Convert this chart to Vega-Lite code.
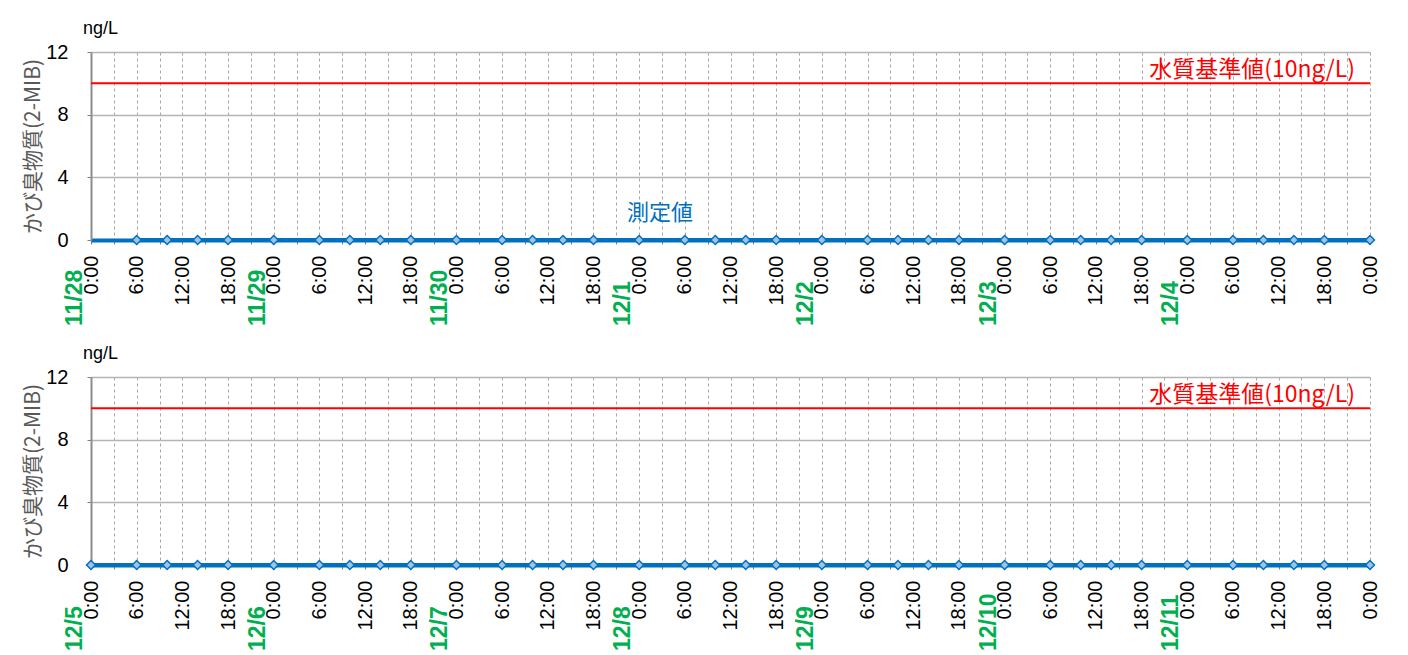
{
  "$schema": "https://vega.github.io/schema/vega-lite/v6.json",
  "background": "white",
  "padding": {"left": 22, "top": 20, "right": 5, "bottom": 0},
  "spacing": 19,
  "config": {
    "font": "Liberation Sans",
    "view": {"stroke": null},
    "axisX": {
      "labelAngle": 270,
      "labelFontSize": 20,
      "labelColor": "black",
      "labelPadding": 11,
      "tickSize": 4,
      "tickColor": "#7F7F7F",
      "domainColor": "#0070C0",
      "domainWidth": 4,
      "grid": true,
      "gridDash": [3, 3],
      "gridColor": "#A6A6A6",
      "gridWidth": 1
    },
    "axisY": {
      "labelFontSize": 20,
      "labelColor": "black",
      "labelPadding": 19,
      "tickSize": 4,
      "tickColor": "#7F7F7F",
      "domainColor": "#8C8C8C",
      "domainWidth": 2,
      "grid": true,
      "gridColor": "#B4B4B4",
      "gridWidth": 1.5,
      "titleFont": "Noto Sans CJK JP",
      "titleFontSize": 21,
      "titleFontWeight": "normal",
      "titleColor": "#595959",
      "titlePadding": 2
    }
  },
  "datasets": {
    "w1": [
      {"t": "2023-11-28T06:00:00", "v": 0}, {"t": "2023-11-28T10:00:00", "v": 0}, {"t": "2023-11-28T14:00:00", "v": 0}, {"t": "2023-11-28T18:00:00", "v": 0},
      {"t": "2023-11-29T00:00:00", "v": 0}, {"t": "2023-11-29T06:00:00", "v": 0}, {"t": "2023-11-29T10:00:00", "v": 0}, {"t": "2023-11-29T14:00:00", "v": 0}, {"t": "2023-11-29T18:00:00", "v": 0},
      {"t": "2023-11-30T00:00:00", "v": 0}, {"t": "2023-11-30T06:00:00", "v": 0}, {"t": "2023-11-30T10:00:00", "v": 0}, {"t": "2023-11-30T14:00:00", "v": 0}, {"t": "2023-11-30T18:00:00", "v": 0},
      {"t": "2023-12-01T00:00:00", "v": 0}, {"t": "2023-12-01T06:00:00", "v": 0}, {"t": "2023-12-01T10:00:00", "v": 0}, {"t": "2023-12-01T14:00:00", "v": 0}, {"t": "2023-12-01T18:00:00", "v": 0},
      {"t": "2023-12-02T00:00:00", "v": 0}, {"t": "2023-12-02T06:00:00", "v": 0}, {"t": "2023-12-02T10:00:00", "v": 0}, {"t": "2023-12-02T14:00:00", "v": 0}, {"t": "2023-12-02T18:00:00", "v": 0},
      {"t": "2023-12-03T00:00:00", "v": 0}, {"t": "2023-12-03T06:00:00", "v": 0}, {"t": "2023-12-03T10:00:00", "v": 0}, {"t": "2023-12-03T14:00:00", "v": 0}, {"t": "2023-12-03T18:00:00", "v": 0},
      {"t": "2023-12-04T00:00:00", "v": 0}, {"t": "2023-12-04T06:00:00", "v": 0}, {"t": "2023-12-04T10:00:00", "v": 0}, {"t": "2023-12-04T14:00:00", "v": 0}, {"t": "2023-12-04T18:00:00", "v": 0},
      {"t": "2023-12-05T00:00:00", "v": 0}
    ],
    "w2": [
      {"t": "2023-12-05T00:00:00", "v": 0}, {"t": "2023-12-05T06:00:00", "v": 0}, {"t": "2023-12-05T10:00:00", "v": 0}, {"t": "2023-12-05T14:00:00", "v": 0}, {"t": "2023-12-05T18:00:00", "v": 0},
      {"t": "2023-12-06T00:00:00", "v": 0}, {"t": "2023-12-06T06:00:00", "v": 0}, {"t": "2023-12-06T10:00:00", "v": 0}, {"t": "2023-12-06T14:00:00", "v": 0}, {"t": "2023-12-06T18:00:00", "v": 0},
      {"t": "2023-12-07T00:00:00", "v": 0}, {"t": "2023-12-07T06:00:00", "v": 0}, {"t": "2023-12-07T10:00:00", "v": 0}, {"t": "2023-12-07T14:00:00", "v": 0}, {"t": "2023-12-07T18:00:00", "v": 0},
      {"t": "2023-12-08T00:00:00", "v": 0}, {"t": "2023-12-08T06:00:00", "v": 0}, {"t": "2023-12-08T10:00:00", "v": 0}, {"t": "2023-12-08T14:00:00", "v": 0}, {"t": "2023-12-08T18:00:00", "v": 0},
      {"t": "2023-12-09T00:00:00", "v": 0}, {"t": "2023-12-09T06:00:00", "v": 0}, {"t": "2023-12-09T10:00:00", "v": 0}, {"t": "2023-12-09T14:00:00", "v": 0}, {"t": "2023-12-09T18:00:00", "v": 0},
      {"t": "2023-12-10T00:00:00", "v": 0}, {"t": "2023-12-10T06:00:00", "v": 0}, {"t": "2023-12-10T10:00:00", "v": 0}, {"t": "2023-12-10T14:00:00", "v": 0}, {"t": "2023-12-10T18:00:00", "v": 0},
      {"t": "2023-12-11T00:00:00", "v": 0}, {"t": "2023-12-11T06:00:00", "v": 0}, {"t": "2023-12-11T10:00:00", "v": 0}, {"t": "2023-12-11T14:00:00", "v": 0}, {"t": "2023-12-11T18:00:00", "v": 0},
      {"t": "2023-12-12T00:00:00", "v": 0}
    ],
    "d1": [
      {"t": "2023-11-28T00:00:00", "v": 0, "label": "11/28"}, {"t": "2023-11-29T00:00:00", "v": 0, "label": "11/29"},
      {"t": "2023-11-30T00:00:00", "v": 0, "label": "11/30"}, {"t": "2023-12-01T00:00:00", "v": 0, "label": "12/1"},
      {"t": "2023-12-02T00:00:00", "v": 0, "label": "12/2"}, {"t": "2023-12-03T00:00:00", "v": 0, "label": "12/3"},
      {"t": "2023-12-04T00:00:00", "v": 0, "label": "12/4"}
    ],
    "d2": [
      {"t": "2023-12-05T00:00:00", "v": 0, "label": "12/5"}, {"t": "2023-12-06T00:00:00", "v": 0, "label": "12/6"},
      {"t": "2023-12-07T00:00:00", "v": 0, "label": "12/7"}, {"t": "2023-12-08T00:00:00", "v": 0, "label": "12/8"},
      {"t": "2023-12-09T00:00:00", "v": 0, "label": "12/9"}, {"t": "2023-12-10T00:00:00", "v": 0, "label": "12/10"},
      {"t": "2023-12-11T00:00:00", "v": 0, "label": "12/11"}
    ],
    "s1": [{"t": "2023-12-05T00:00:00", "v": 10, "label": "水質基準値(10ng/L)"}],
    "s2": [{"t": "2023-12-12T00:00:00", "v": 10, "label": "水質基準値(10ng/L)"}],
    "m1": [{"t": "2023-12-01T02:45:00", "v": 0, "label": "測定値"}]
  },
  "vconcat": [
    {
      "width": 1279,
      "height": 188,
      "title": {"text": "ng/L", "anchor": "start", "frame": "group", "fontSize": 18, "fontWeight": "normal", "color": "black", "dx": -8, "offset": 4},
      "layer": [
        {
          "data": {"name": "s1"},
          "mark": {"type": "rule", "color": "#FF0000", "strokeWidth": 2},
          "encoding": {"y": {"field": "v", "type": "quantitative"}}
        },
        {
          "data": {"name": "w1"},
          "mark": {"type": "line", "color": "#0070C0", "strokeWidth": 4},
          "encoding": {
            "x": {"field": "t", "type": "temporal",
              "scale": {"domain": [{"year": 2023, "month": 11, "date": 28}, {"year": 2023, "month": 12, "date": 5}], "nice": false},
              "axis": {"title": null, "tickCount": 56, "format": "%-H:%M", "labelOverlap": "parity", "labelSeparation": 12, "labelFlush": false}},
            "y": {"field": "v", "type": "quantitative",
              "scale": {"domain": [0, 12], "nice": false},
              "axis": {"title": "かび臭物質(2-MIB)", "values": [0, 2, 4, 6, 8, 10, 12], "labelOverlap": false}}
          }
        },
        {
          "data": {"name": "w1"},
          "mark": {"type": "point", "shape": "diamond", "filled": true, "size": 80, "fill": "#9DC3E6", "stroke": "#0070C0", "strokeWidth": 1.5, "opacity": 1},
          "encoding": {"x": {"field": "t", "type": "temporal"}, "y": {"field": "v", "type": "quantitative"}}
        },
        {
          "data": {"name": "s1"},
          "mark": {"type": "text", "font": "Noto Sans CJK JP", "fontSize": 23, "color": "#FF0000", "align": "right", "baseline": "bottom", "dx": -15, "dy": -1},
          "encoding": {"x": {"field": "t", "type": "temporal"}, "y": {"field": "v", "type": "quantitative"}, "text": {"field": "label"}}
        },
        {
          "data": {"name": "m1"},
          "mark": {"type": "text", "font": "Noto Sans CJK JP", "fontSize": 22, "color": "#0070C0", "align": "center", "baseline": "bottom", "dy": -15},
          "encoding": {"x": {"field": "t", "type": "temporal"}, "y": {"field": "v", "type": "quantitative"}, "text": {"field": "label"}}
        },
        {
          "data": {"name": "d1"},
          "mark": {"type": "text", "angle": 270, "align": "left", "baseline": "alphabetic", "dx": -86, "dy": -9, "fontSize": 23, "fontWeight": "bold", "color": "#00B050"},
          "encoding": {"x": {"field": "t", "type": "temporal"}, "y": {"field": "v", "type": "quantitative"}, "text": {"field": "label"}}
        }
      ]
    },
    {
      "width": 1279,
      "height": 188,
      "title": {"text": "ng/L", "anchor": "start", "frame": "group", "fontSize": 18, "fontWeight": "normal", "color": "black", "dx": -8, "offset": 4},
      "layer": [
        {
          "data": {"name": "s2"},
          "mark": {"type": "rule", "color": "#FF0000", "strokeWidth": 2},
          "encoding": {"y": {"field": "v", "type": "quantitative"}}
        },
        {
          "data": {"name": "w2"},
          "mark": {"type": "line", "color": "#0070C0", "strokeWidth": 4},
          "encoding": {
            "x": {"field": "t", "type": "temporal",
              "scale": {"domain": [{"year": 2023, "month": 12, "date": 5}, {"year": 2023, "month": 12, "date": 12}], "nice": false},
              "axis": {"title": null, "tickCount": 56, "format": "%-H:%M", "labelOverlap": "parity", "labelSeparation": 12, "labelFlush": false}},
            "y": {"field": "v", "type": "quantitative",
              "scale": {"domain": [0, 12], "nice": false},
              "axis": {"title": "かび臭物質(2-MIB)", "values": [0, 2, 4, 6, 8, 10, 12], "labelOverlap": false}}
          }
        },
        {
          "data": {"name": "w2"},
          "mark": {"type": "point", "shape": "diamond", "filled": true, "size": 80, "fill": "#9DC3E6", "stroke": "#0070C0", "strokeWidth": 1.5, "opacity": 1},
          "encoding": {"x": {"field": "t", "type": "temporal"}, "y": {"field": "v", "type": "quantitative"}}
        },
        {
          "data": {"name": "s2"},
          "mark": {"type": "text", "font": "Noto Sans CJK JP", "fontSize": 23, "color": "#FF0000", "align": "right", "baseline": "bottom", "dx": -15, "dy": -1},
          "encoding": {"x": {"field": "t", "type": "temporal"}, "y": {"field": "v", "type": "quantitative"}, "text": {"field": "label"}}
        },
        {
          "data": {"name": "d2"},
          "mark": {"type": "text", "angle": 270, "align": "left", "baseline": "alphabetic", "dx": -86, "dy": -9, "fontSize": 23, "fontWeight": "bold", "color": "#00B050"},
          "encoding": {"x": {"field": "t", "type": "temporal"}, "y": {"field": "v", "type": "quantitative"}, "text": {"field": "label"}}
        }
      ]
    }
  ]
}
